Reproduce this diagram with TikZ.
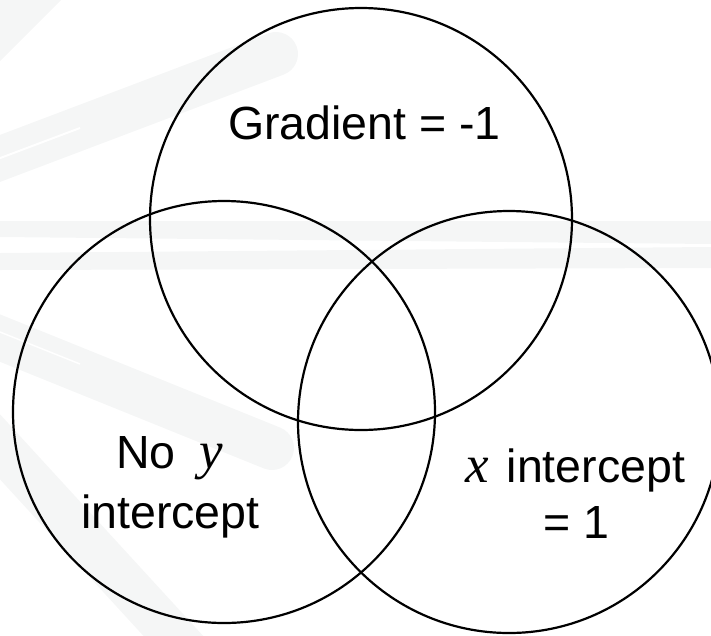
\documentclass[tikz,border=0pt]{standalone}
\usepackage{fontspec}
\setmainfont{Liberation Sans}
\newfontfamily\varfont{Liberation Serif}
\definecolor{streak}{RGB}{245,246,246}
\newcommand{\mvar}[1]{{\varfont\itshape\fontsize{53}{56}\selectfont #1}}
\begin{document}
\begin{tikzpicture}[x=1pt,y=-1pt,
  streakline/.style={draw=streak,line cap=round},
  venn/.style={circle,draw=black,line width=2.2pt,minimum size=422pt,inner sep=0pt},
  lbl/.style={anchor=base west,inner sep=0pt,font=\fontsize{46.5}{56}\selectfont}]
\useasboundingbox (0,0) rectangle (711,635);
\clip (0,0) rectangle (711,635);
% faint background streaks
\draw[streakline,line width=44pt] (-40,70) -- (70,-40);
\draw[streakline,line width=44pt] (-20,166) -- (276,54);
\draw[white,line width=2pt] (-5,160) -- (80,128);
\fill[streak] (0,221) -- (711,221) -- (711,244) -- (0,237) -- cycle;
\fill[streak] (0,253) -- (711,247) -- (711,268) -- (0,270) -- cycle;
\draw[streakline,line width=44pt] (-20,330) -- (272,448);
\draw[white,line width=1.5pt] (-5,330) -- (80,364);
\draw[streakline,line width=44pt] (-20,425) -- (200,665);
% circles
\node[venn] (top) at (361,219) {};
\node[venn] (left) at (224,412) {};
\node[venn] (right) at (509,422) {};
% labels
\node[lbl] (grad) at (228,139) {Gradient = -1};
\node[lbl] (noy) at (116,468) {No\hspace{24pt}\mvar{y}};
\node[lbl] (inty) at (81,528) {intercept};
\node[lbl] (xint) at (465,482) {\mvar{x}\hspace{18pt}intercept};
\node[lbl] (eq1) at (543,538) {= 1};
\end{tikzpicture}
\end{document}
